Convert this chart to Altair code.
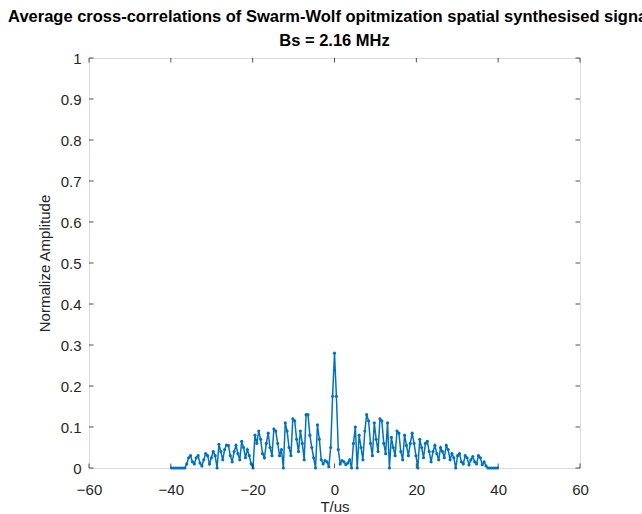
import altair as alt
import pandas as pd

# Sampling grid: 2.16 MHz -> 1/2.16 us per lag
lag_index = list(range(-86, 87))
sample_us = 1 / 2.16

left_vals = [
    0.0, 0.0, 0.0, 0.0, 0.0, 0.0, 0.0, 0.0,            # k=-86..-79
    0.01, 0.025, 0.03, 0.015, 0.01, 0.025, 0.03, 0.012, # k=-78..-71
    0.005, 0.02, 0.035, 0.03, 0.01, 0.025, 0.04, 0.03,  # k=-70..-63
    0.0, 0.058, 0.04, 0.02, 0.045, 0.056, 0.055, 0.03,  # k=-62..-55
    0.015, 0.04, 0.055, 0.035, 0.02, 0.065, 0.05, 0.025,# k=-54..-47
    0.045, 0.03, 0.01, 0.0, 0.08, 0.06, 0.09, 0.07,     # k=-46..-39
    0.035, 0.025, 0.06, 0.085, 0.05, 0.03, 0.095, 0.09, # k=-38..-31
    0.06, 0.03, 0.045, 0.0, 0.11, 0.09, 0.05, 0.03,     # k=-30..-23
    0.12, 0.115, 0.07, 0.04, 0.09, 0.06, 0.02, 0.13,    # k=-22..-15
    0.13, 0.08, 0.05, 0.025, 0.0, 0.105, 0.07, 0.02,    # k=-14..-7
    0.01, 0.018, 0.015, 0.003, 0.05, 0.175,             # k=-6..-1
]
center_val = [0.28]
right_vals = [
    0.175, 0.045, 0.01, 0.018, 0.015, 0.008, 0.012, 0.02,   # k=1..8
    0.0, 0.06, 0.10, 0.0, 0.08, 0.05, 0.02, 0.09,           # k=9..16
    0.13, 0.115, 0.06, 0.03, 0.11, 0.07, 0.04, 0.12,        # k=17..24
    0.115, 0.06, 0.035, 0.11, 0.0, 0.075, 0.05, 0.03,       # k=25..32
    0.09, 0.085, 0.04, 0.02, 0.08, 0.055, 0.03, 0.06,       # k=33..40
    0.085, 0.06, 0.03, 0.0, 0.07, 0.05, 0.025, 0.06,        # k=41..48
    0.065, 0.04, 0.015, 0.04, 0.055, 0.035, 0.02, 0.05,     # k=49..56
    0.04, 0.025, 0.055, 0.045, 0.02, 0.035, 0.025, 0.0,     # k=57..64
    0.03, 0.035, 0.015, 0.01, 0.03, 0.025, 0.008, 0.02,     # k=65..72
    0.028, 0.015, 0.01, 0.03, 0.025, 0.008, 0.015, 0.005,   # k=73..80
    0.0, 0.0, 0.0, 0.0, 0.0, 0.0,                           # k=81..86
]
amplitude = left_vals + center_val + right_vals

x_ticks = [-60, -40, -20, 0, 20, 40, 60]
y_ticks = [0, 0.1, 0.2, 0.3, 0.4, 0.5, 0.6, 0.7, 0.8, 0.9, 1.0]

df = pd.DataFrame({"T": [k * sample_us for k in lag_index], "A": amplitude})

W, H = 491, 410
FONT = "Liberation Sans"
AX = "#262626"
LINE = "#0072BD"

xs = alt.Scale(domain=[-60, 60], nice=False)
ys = alt.Scale(domain=[0, 1], nice=False)

base = alt.Chart(df).mark_line(
    color=LINE, strokeWidth=1.5,
    point=alt.OverlayMarkDef(color=LINE, size=10, filled=True),
).encode(
    x=alt.X("T:Q", scale=xs, title="T/us",
            axis=alt.Axis(values=x_ticks, tickSize=0, domain=False, grid=False,
                          labelPadding=14, labelFontSize=15, labelColor=AX,
                          labelFont=FONT, titleFont=FONT, titleFontSize=15,
                          titleFontWeight="normal", titleColor=AX, titlePadding=2,
                          labelFlush=False)),
    y=alt.Y("A:Q", scale=ys, title="Normalize Amplitude",
            axis=alt.Axis(values=y_ticks, format=".1~f", tickSize=0, domain=False,
                          grid=False, labelPadding=8, labelFontSize=15,
                          labelColor=AX, labelFont=FONT, titleFont=FONT,
                          titleFontSize=15, titleFontWeight="normal",
                          titleColor=AX, titlePadding=8, labelFlush=False)),
)

# inward tick marks (MATLAB style)
tl = 0.011
xt = pd.DataFrame({"x": x_ticks})
bottom_ticks = alt.Chart(xt).mark_rule(color=AX, strokeWidth=0.8).encode(
    x=alt.X("x:Q", scale=xs), y=alt.datum(0, scale=ys), y2=alt.datum(tl))
top_ticks = alt.Chart(xt).mark_rule(color=AX, strokeWidth=0.8).encode(
    x=alt.X("x:Q", scale=xs), y=alt.datum(1 - tl, scale=ys), y2=alt.datum(1))
yt = pd.DataFrame({"y": y_ticks})
left_ticks = alt.Chart(yt).mark_rule(color=AX, strokeWidth=0.8).encode(
    y=alt.Y("y:Q", scale=ys), x=alt.datum(-60, scale=xs), x2=alt.datum(-60 + 120 * tl * H / W))
right_ticks = alt.Chart(yt).mark_rule(color=AX, strokeWidth=0.8).encode(
    y=alt.Y("y:Q", scale=ys), x=alt.datum(60 - 120 * tl * H / W, scale=xs), x2=alt.datum(60))

chart = alt.layer(base, bottom_ticks, top_ticks, left_ticks, right_ticks).properties(
    width=W, height=H,
    title=alt.TitleParams(
        text=["Average cross-correlations of Swarm-Wolf opitmization spatial synthesised signals",
              "Bs = 2.16 MHz"],
        font=FONT, fontSize=16.5, fontWeight="bold", color="#000000",
        anchor="middle", frame="group", lineHeight=24, offset=2,
    ),
    padding={"left": 89, "top": 58, "right": 62, "bottom": 46},
    autosize=alt.AutoSizeParams(type="none"),
).configure_view(stroke="#8a8a8a", strokeWidth=1).configure(background="white")

chart.save("out.html", embed_options={"renderer": "svg", "actions": False})
